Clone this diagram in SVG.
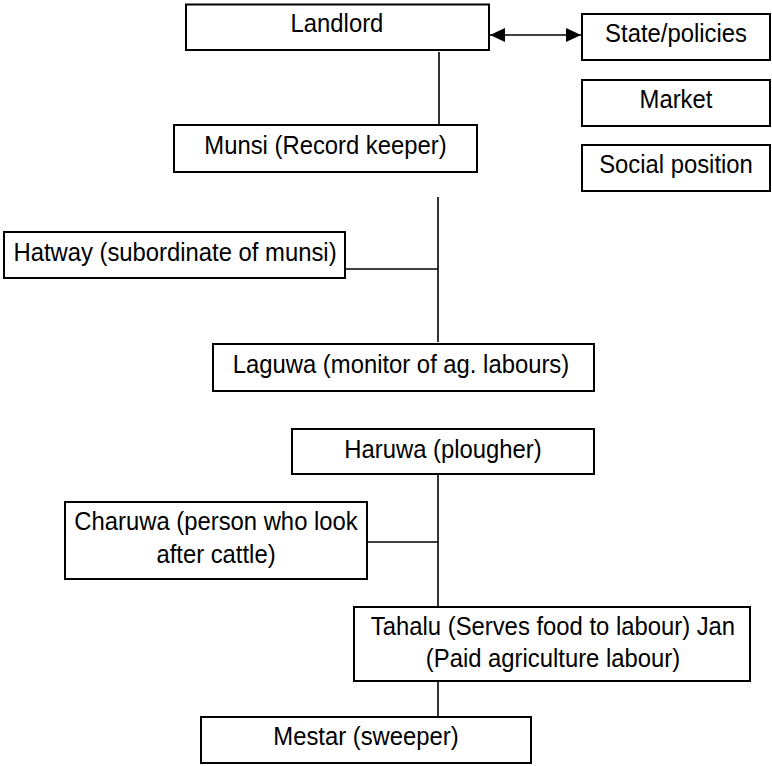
<svg xmlns="http://www.w3.org/2000/svg" width="772" height="766" viewBox="0 0 772 766">
<style>
.box{fill:#fff;stroke:#000;stroke-width:2}
.lbl{font-family:"Liberation Sans",Arial,sans-serif;font-size:26.5px;fill:#000;text-anchor:middle}
.con{stroke:#000;stroke-width:1.6;fill:none}
</style>
<defs>
<marker id="ah" markerUnits="userSpaceOnUse" markerWidth="16" markerHeight="15" refX="15" refY="7.5" orient="auto-start-reverse">
<path d="M0,0.5 L15,7.5 L0,14.5 z" fill="#000"/>
</marker>
</defs>
<rect width="772" height="766" fill="#fff"/>
<g id="connectors">
<line class="con" x1="490" y1="35" x2="581" y2="35" marker-start="url(#ah)" marker-end="url(#ah)"/>
<line class="con" x1="439" y1="52" x2="439" y2="125"/>
<line class="con" x1="438" y1="197" x2="438" y2="342"/>
<line class="con" x1="343" y1="269" x2="438" y2="269"/>
<line class="con" x1="438" y1="474" x2="438" y2="622"/>
<line class="con" x1="367" y1="542" x2="438" y2="542"/>
<line class="con" x1="438" y1="665" x2="438" y2="722"/>
</g>
<g id="landlord"><rect class="box" x="186" y="4.5" width="303" height="45.5"/><text class="lbl" transform="matrix(0.9 0 0 1 33.7 0)" x="337" y="32">Landlord</text></g>
<g id="state"><rect class="box" x="582" y="14" width="188" height="46"/><text class="lbl" transform="matrix(0.9 0 0 1 67.6 0)" x="676" y="42">State/policies</text></g>
<g id="market"><rect class="box" x="582" y="80" width="188" height="46"/><text class="lbl" transform="matrix(0.9 0 0 1 67.6 0)" x="676" y="108">Market</text></g>
<g id="social"><rect class="box" x="582" y="145" width="188" height="46"/><text class="lbl" transform="matrix(0.9 0 0 1 67.6 0)" x="676" y="173">Social position</text></g>
<g id="munsi"><rect class="box" x="174" y="125" width="303" height="47"/><text class="lbl" transform="matrix(0.9 0 0 1 32.55 0)" x="325.5" y="154">Munsi (Record keeper)</text></g>
<g id="hatway"><rect class="box" x="4" y="232" width="341" height="46"/><text class="lbl" transform="matrix(0.9 0 0 1 17.5 0)" x="175" y="261">Hatway (subordinate of munsi)</text></g>
<g id="laguwa"><rect class="box" x="213" y="344" width="381" height="47"/><text class="lbl" transform="matrix(0.9 0 0 1 40.1 0)" x="401" y="373">Laguwa (monitor of ag. labours)</text></g>
<g id="haruwa"><rect class="box" x="292" y="429" width="302" height="45"/><text class="lbl" transform="matrix(0.9 0 0 1 44.3 0)" x="443" y="458">Haruwa (plougher)</text></g>
<g id="charuwa"><rect class="box" x="65" y="502" width="302" height="77"/><text class="lbl" transform="matrix(0.9 0 0 1 21.6 0)" x="216" y="530">Charuwa (person who look</text><text class="lbl" transform="matrix(0.9 0 0 1 21.6 0)" x="216" y="563">after cattle)</text></g>
<g id="tahalu"><rect class="box" x="354" y="607" width="396" height="74"/><text class="lbl" transform="matrix(0.9 0 0 1 55.3 0)" x="553" y="635">Tahalu (Serves food to labour) Jan</text><text class="lbl" transform="matrix(0.9 0 0 1 55.3 0)" x="553" y="667">(Paid agriculture labour)</text></g>
<g id="mestar"><rect class="box" x="201" y="717" width="330" height="46"/><text class="lbl" transform="matrix(0.9 0 0 1 36.6 0)" x="366" y="745">Mestar (sweeper)</text></g>
</svg>
